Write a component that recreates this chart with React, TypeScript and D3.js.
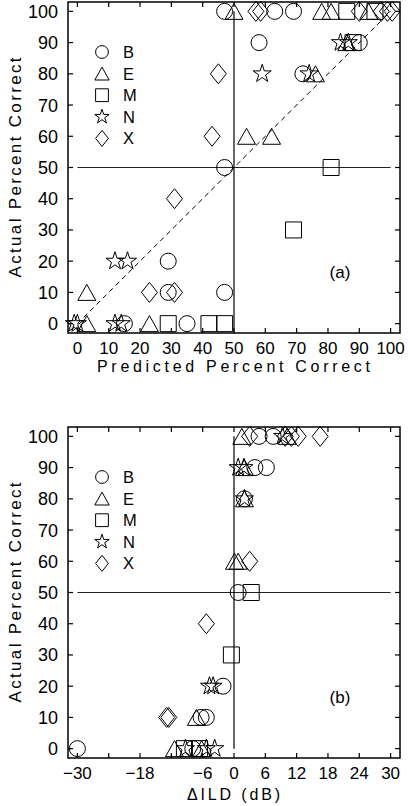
import React from "react";
import * as d3 from "d3";

// panel (a): [predicted %, actual %]
const aB = [[47, 100], [63, 100], [69, 100], [58, 90], [90, 90], [72, 80], [47, 50], [29, 20], [29, 10], [47, 10], [15, 0], [35, 0]];
const aE = [[50, 100], [78, 100], [81, 100], [93, 100], [86, 90], [76, 80], [54, 60], [62, 60], [3, 10], [3, 0], [23, 0]];
const aM = [[86, 100], [95, 100], [88, 90], [81, 50], [69, 30], [29, 0], [42, 0], [47, 0]];
const aN = [[84, 90], [86.5, 90], [59, 80], [74, 80], [12, 20], [16, 20], [-1, 0], [0, 0], [12, 0], [14, 0]];
const aX = [[57, 100], [58.5, 100], [90, 100], [97, 100], [99, 100], [100.5, 100], [45, 80], [43, 60], [31, 40], [23, 10], [31, 10]];

// panel (b): [delta ILD dB, actual %]
const bB = [[4.8, 100], [7.5, 100], [4, 90], [6.2, 90], [2, 80], [0.8, 50], [-2.1, 20], [-6.3, 10], [-5.3, 10], [-30, 0], [-7.9, 0]];
const bE = [[1.5, 100], [10.2, 100], [2, 90], [2, 80], [0.1, 60], [0.8, 60], [-7.2, 10], [-11.4, 0], [-6.2, 0]];
const bM = [[3.3, 50], [-0.5, 30], [-9.5, 0], [-6.6, 0]];
const bN = [[9.3, 100], [0.8, 90], [1.9, 90], [2, 80], [-4.7, 20], [-4, 20], [-9.3, 0], [-5.3, 0], [-3.7, 0]];
const bX = [[3, 100], [9.8, 100], [11, 100], [12.3, 100], [16.5, 100], [3, 60], [-5.3, 40], [-12.9, 10], [-12.5, 10]];

const legendNames = ["B", "E", "M", "N", "X"];
const kinds = ["circle", "triangle", "square", "star", "diamond"];
const pctTicks = [0, 10, 20, 30, 40, 50, 60, 70, 80, 90, 100];
const ildTicks = [-30, -24, -18, -12, -6, 0, 6, 12, 18, 24, 30];
const ildLabels = [-30, -18, -6, 0, 6, 12, 18, 24, 30];

const FONT = "'Liberation Sans', Arial, sans-serif";

function markerPath(kind: string, s: number) {
  if (kind === "circle") return d3.symbol(d3.symbolCircle, Math.PI * 64 * s * s)()!;
  if (kind === "square") return d3.symbol(d3.symbolSquare, 256 * s * s)()!;
  if (kind === "star") return d3.symbol(d3.symbolStar, 101 * s * s)()!;
  if (kind === "triangle") return `M0,${-8 * s}L${9 * s},${8 * s}L${-9 * s},${8 * s}Z`;
  return `M0,${-10 * s}L${8 * s},0L0,${10 * s}L${-8 * s},0Z`;
}

function Panel(props: any) {
  const { top, series, xDomain, xTicks, xLabels, xTitle, xTitleLen, xTitleDy, tag, vLineFrom, vx, hFrom, hTo, diag } = props;
  const x = d3.scaleLinear().domain(xDomain).range([68, 400]);
  const y = d3.scaleLinear().domain([-3, 103]).range([top + 331, top]);
  const bottom = top + 331;
  const fmt = (v: number) => (v < 0 ? "\u2212" + Math.abs(v) : String(v));
  return (
    <g>
      {diag && (
        <line x1={x(0)} y1={y(0)} x2={x(100)} y2={y(100)} stroke="#000" strokeWidth={1} strokeDasharray="5,4" />
      )}
      <line x1={x(hFrom)} x2={x(hTo)} y1={y(50)} y2={y(50)} stroke="#222" strokeWidth={1.2} />
      <line x1={x(vx)} x2={x(vx)} y1={y(vLineFrom)} y2={y(100)} stroke="#000" strokeWidth={1.2} />
      {series.map((pts: number[][], i: number) =>
        pts.map((p, j) => (
          <path key={i + "-" + j} d={markerPath(kinds[i], 1)} transform={`translate(${x(p[0])},${y(p[1])})`}
            fill="none" stroke="#000" strokeWidth={1} />
        ))
      )}
      <rect x={68} y={top} width={332} height={331} fill="none" stroke="#000" strokeWidth={1.5} />
      {xTicks.map((t: number) => (
        <g key={"xt" + t}>
          <line x1={x(t)} x2={x(t)} y1={bottom} y2={bottom - 5} stroke="#000" strokeWidth={1.2} />
          <line x1={x(t)} x2={x(t)} y1={top} y2={top + 5} stroke="#000" strokeWidth={1.2} />
        </g>
      ))}
      {pctTicks.map((t) => (
        <g key={"yt" + t}>
          <line x1={68} x2={73} y1={y(t)} y2={y(t)} stroke="#000" strokeWidth={1.2} />
          <line x1={400} x2={395} y1={y(t)} y2={y(t)} stroke="#000" strokeWidth={1.2} />
          <text x={58} y={y(t)} dy="0.36em" textAnchor="end" fontSize={18} fontFamily={FONT}>{t}</text>
        </g>
      ))}
      {xLabels.map((t: number) => (
        <text key={"xl" + t} x={x(t)} y={bottom + 21} textAnchor="middle" fontSize={17} fontFamily={FONT}>{fmt(t)}</text>
      ))}
      <text x={x(xDomain[0] + (xDomain[1] - xDomain[0]) * 0.5) - 0.5} y={bottom + xTitleDy} textAnchor="middle"
        fontSize={16} fontFamily={FONT} textLength={xTitleLen} lengthAdjust="spacing">{xTitle}</text>
      <text transform={`translate(21,${(top + bottom) / 2}) rotate(-90)`} textAnchor="middle" fontSize={17}
        fontFamily={FONT} textLength={220} lengthAdjust="spacing">Actual Percent Correct</text>
      <text x={340} y={top + 276} textAnchor="middle" fontSize={17} fontFamily={FONT}>{tag}</text>
      {legendNames.map((n, i) => (
        <g key={n} transform={`translate(0,${top + 50 + i * 21.6})`}>
          <path d={markerPath(kinds[i], 0.8)} transform="translate(102,0)" fill="none" stroke="#000" strokeWidth={1} />
          <text x={123} y={0} dy="0.36em" fontSize={16.5} fontFamily={FONT}>{n}</text>
        </g>
      ))}
    </g>
  );
}

export default function App() {
  return (
    <svg width={408} height={806} style={{ position: "absolute", left: 0, top: 0, background: "#fff" }}>
      <Panel top={2} series={[aB, aE, aM, aN, aX]} xDomain={[-3, 103]} xTicks={pctTicks} xLabels={pctTicks}
        xTitle="Predicted Percent Correct" xTitleLen={273} xTitleDy={39} tag="(a)" vLineFrom={-3} vx={50}
        hFrom={0} hTo={100} diag={true} />
      <Panel top={427} series={[bB, bE, bM, bN, bX]} xDomain={[-31.8, 31.8]} xTicks={ildTicks} xLabels={ildLabels}
        xTitle={"\u0394ILD (dB)"} xTitleLen={93} xTitleDy={42} tag="(b)" vLineFrom={0} vx={0}
        hFrom={-30} hTo={30} diag={false} />
    </svg>
  );
}
